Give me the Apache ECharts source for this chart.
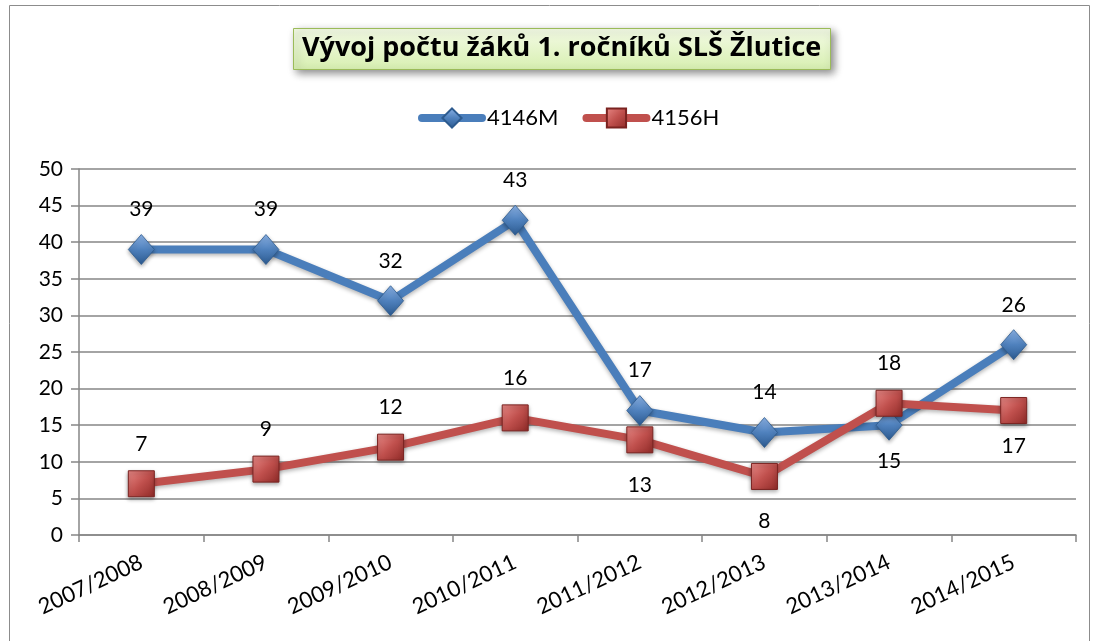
<!DOCTYPE html>
<html><head><meta charset="utf-8">
<script src="https://cdn.jsdelivr.net/npm/echarts@6/dist/echarts.min.js"></script>
<style>html,body{margin:0;padding:0;background:#fff}#c{width:1094px;height:641px}</style>
</head><body><div id="c"></div>
<script>
const categories = ['2007/2008','2008/2009','2009/2010','2010/2011','2011/2012','2012/2013','2013/2014','2014/2015'];
const seriesM = [39,39,32,43,17,14,15,26];
const seriesH = [7,9,12,16,13,8,18,17];
const yTicks = {min:0, max:50, interval:5};
const belowM = [6];
const belowH = [4,5,7];

const FONT = 'Lato';
function withLabels(vals, below, upDist, downDist){
  return vals.map((v,i)=>({value:v, label:{position: below.includes(i)?'bottom':'top', distance: below.includes(i)?downDist(i):upDist}}));
}
const chart = echarts.init(document.getElementById('c'));
chart.setOption({
  animation:false,
  textStyle:{fontFamily:FONT},
  graphic:[{type:'rect', shape:{x:9.5,y:5.5,width:1080,height:700}, style:{fill:'none', stroke:'#8c8c8c', lineWidth:1}, silent:true, z:-1}],
  title:{
    text:'Vývoj počtu žáků 1. ročníků SLŠ Žlutice',
    left:293, top:28,
    padding:[7,9,8,9],
    backgroundColor:{type:'linear',x:0,y:0,x2:0,y2:1,colorStops:[{offset:0,color:'#f4fbe6'},{offset:1,color:'#d7efb0'}]},
    borderColor:'#9bbb59', borderWidth:1,
    shadowBlur:8, shadowColor:'rgba(0,0,0,0.45)', shadowOffsetX:3, shadowOffsetY:3,
    textStyle:{fontFamily:'Open Sans', fontSize:27, fontWeight:'bold', color:'#000'}
  },
  legend:{
    top:102, left:413, itemWidth:60, itemHeight:24, itemGap:24,
    lineStyle:{width:8, cap:'round'},
    textStyle:{fontFamily:FONT, fontSize:22, color:'#000'},
    data:['4146M','4156H']
  },
  grid:{left:79, right:18, top:169, bottom:106, containLabel:false},
  xAxis:{
    type:'category', data:categories, boundaryGap:true,
    axisLine:{lineStyle:{color:'#868686', width:1.5}},
    axisTick:{show:true, length:7, lineStyle:{color:'#868686', width:1.5}},
    axisLabel:{rotate:25, fontSize:22, color:'#000', fontFamily:FONT, margin:26, interval:0},
    splitLine:{show:false}
  },
  yAxis:{
    type:'value', min:yTicks.min, max:yTicks.max, interval:yTicks.interval,
    axisLine:{show:true, lineStyle:{color:'#868686', width:1.5}},
    axisTick:{show:true, length:8, inside:false, lineStyle:{color:'#868686', width:1.5}},
    axisLabel:{fontSize:21, color:'#000', fontFamily:FONT, margin:16},
    splitLine:{lineStyle:{color:'#868686', width:1.5}}
  },
  series:[
    {
      name:'4146M', type:'line', data:withLabels(seriesM, belowM, 14, ()=>10),
      symbol:'diamond', symbolSize:[26,30],
      lineStyle:{color:'#4a7ebb', width:8, shadowBlur:4, shadowColor:'rgba(0,0,0,0.3)', shadowOffsetY:2},
      itemStyle:{color:{type:'linear',x:0,y:0,x2:0,y2:1,colorStops:[{offset:0,color:'#8db4e8'},{offset:0.5,color:'#4f81bd'},{offset:1,color:'#2c5a90'}]}, borderColor:'#2d5b8f', borderWidth:0.8, shadowBlur:4, shadowColor:'rgba(0,0,0,0.35)', shadowOffsetY:2},
      label:{show:true, fontSize:21, color:'#000', fontFamily:FONT},
      z:3
    },
    {
      name:'4156H', type:'line', data:withLabels(seriesH, belowH, 16, i=> i===7 ? 12 : 21),
      symbol:'rect', symbolSize:26,
      lineStyle:{color:'#c0504d', width:8, shadowBlur:4, shadowColor:'rgba(0,0,0,0.3)', shadowOffsetY:2},
      itemStyle:{color:{type:'linear',x:0,y:0,x2:1,y2:1,colorStops:[{offset:0,color:'#e98a87'},{offset:0.5,color:'#c0504d'},{offset:1,color:'#8f2a27'}]}, borderColor:'#7a2320', borderWidth:1, shadowBlur:4, shadowColor:'rgba(0,0,0,0.35)', shadowOffsetY:2},
      label:{show:true, fontSize:21, color:'#000', fontFamily:FONT},
      z:4
    }
  ]
});
</script></body></html>
